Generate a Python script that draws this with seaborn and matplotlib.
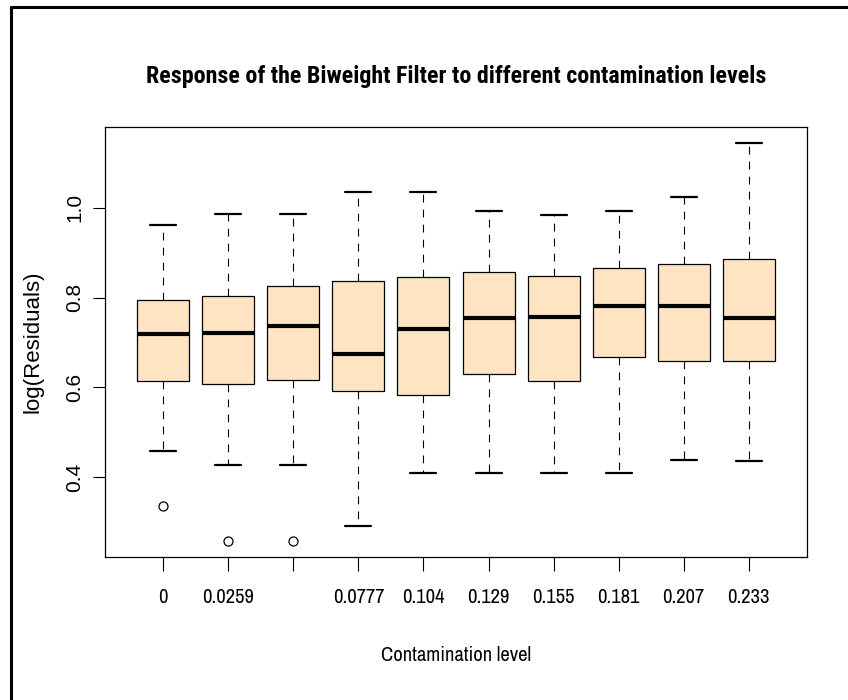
import matplotlib
matplotlib.use("Agg")
import matplotlib.pyplot as plt
import seaborn as sns
from matplotlib.lines import Line2D

# ---- data ----
tick_labels = ["0", "0.0259", "", "0.0777", "0.104", "0.129", "0.155", "0.181", "0.207", "0.233"]
whisk_low = [0.458, 0.426, 0.426, 0.290, 0.410, 0.410, 0.410, 0.410, 0.437, 0.436]
q1        = [0.613, 0.607, 0.617, 0.592, 0.584, 0.630, 0.613, 0.667, 0.659, 0.659]
medians   = [0.718, 0.721, 0.737, 0.674, 0.730, 0.754, 0.757, 0.781, 0.781, 0.754]
q3        = [0.795, 0.804, 0.825, 0.838, 0.845, 0.857, 0.849, 0.866, 0.875, 0.887]
whisk_hi  = [0.961, 0.987, 0.987, 1.035, 1.035, 0.992, 0.985, 0.993, 1.025, 1.144]
outliers  = [[0.335], [0.258], [0.258], [], [], [], [], [], [], []]
y_ticks   = [0.4, 0.6, 0.8, 1.0]
y_tick_labels = ["0.4", "0.6", "0.8", "1.0"]

title = "Response of the Biweight Filter to different contamination levels"
xlabel = "Contamination level"
ylabel = "log(Residuals)"

sns.set_theme(style="white")
NARROW = ["Archivo Narrow", "Roboto Condensed", "Liberation Sans", "DejaVu Sans"]
NARROW_BOLD = ["Roboto Condensed", "Liberation Sans", "DejaVu Sans"]
REGULAR = ["Liberation Sans", "DejaVu Sans"]
plt.rcParams["font.family"] = REGULAR

fig = plt.figure(figsize=(8.48, 7.0), dpi=100)
ax = fig.add_axes([104.8 / 848, 1 - 556.7 / 700, (807.2 - 104.8) / 848, (556.7 - 127.3) / 700])

stats = []
for i in range(len(medians)):
    stats.append(dict(med=medians[i], q1=q1[i], q3=q3[i],
                      whislo=whisk_low[i], whishi=whisk_hi[i],
                      fliers=outliers[i]))

positions = list(range(1, len(stats) + 1))
ax.bxp(stats, positions=positions, widths=0.8, capwidths=0.4,
       patch_artist=True, showfliers=True,
       boxprops=dict(facecolor="#FFE4C4", edgecolor="black", linewidth=0.9),
       medianprops=dict(color="black", linewidth=3.0, solid_capstyle="butt"),
       whiskerprops=dict(color="black", linewidth=0.8, linestyle=(0, (7.0, 6.5))),
       capprops=dict(color="black", linewidth=1.6),
       flierprops=dict(marker="o", markerfacecolor="none", markeredgecolor="black",
                       markersize=6.5, markeredgewidth=0.9, linestyle="none"))

ax.set_xlim(0.1, 10.9)
ax.set_ylim(0.2226, 1.1794)

ax.set_xticks(positions)
ax.set_xticklabels(tick_labels, family=NARROW, fontsize=14.8)
ax.set_yticks(y_ticks)
ax.set_yticklabels(y_tick_labels, rotation=90, va="center", family=REGULAR, fontsize=15)

ax.tick_params(axis="x", bottom=True, length=10, width=0.8, color="black",
               pad=12.5, labelcolor="black")
ax.tick_params(axis="y", left=True, length=9, width=0.8, color="black",
               pad=6, labelcolor="black")

for s in ax.spines.values():
    s.set_visible(True)
    s.set_color("black")
    s.set_linewidth(0.9)

ax.set_xlabel(xlabel, fontsize=14.8, color="black", family=NARROW)
ax.xaxis.set_label_coords(0.5, -0.229)
ax.xaxis.label.set_va("center")
ax.set_ylabel(ylabel, fontsize=16, color="black", family=REGULAR)
ax.yaxis.set_label_coords(-0.102, 0.5)
ax.yaxis.label.set_va("center")
ax.yaxis.label.set_ha("center")

fig.text(456 / 848, 1 - 77 / 700, title, ha="center", va="center",
         fontsize=17.3, fontweight="bold", color="black", family=NARROW_BOLD)

# outer frame (top and left edges, as in the reference)
fig.add_artist(Line2D([11 / 848, 1.0], [1 - 7 / 700, 1 - 7 / 700],
                      transform=fig.transFigure, color="black", linewidth=2.2))
fig.add_artist(Line2D([11 / 848, 11 / 848], [0.0, 1 - 7 / 700],
                      transform=fig.transFigure, color="black", linewidth=2.2))

fig.savefig("out.png", dpi=100)
